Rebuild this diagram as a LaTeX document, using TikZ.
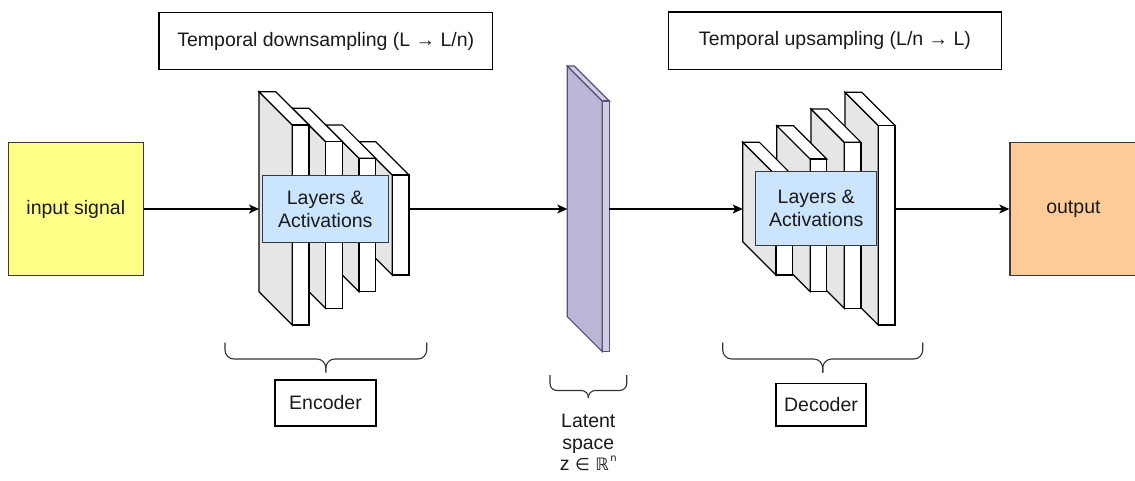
\documentclass[tikz,border=0pt]{standalone}
\usepackage{fontspec}
\setmainfont{Liberation Sans}
\newfontfamily\djv{DejaVu Sans}
\usetikzlibrary{arrows.meta}
\definecolor{strokeg}{HTML}{36393D}
\definecolor{yel}{HTML}{FFFF88}
\definecolor{ora}{HTML}{FFCC99}
\definecolor{lblue}{HTML}{CCE5FF}
\definecolor{sidegray}{HTML}{E6E6E6}
\definecolor{latfront}{HTML}{D0CEE2}
\definecolor{latside}{HTML}{B9B6D6}
\definecolor{latstroke}{HTML}{56517E}
\definecolor{txt}{HTML}{1A1A1A}
% #1 x0, #2 y0, #3 y1, #4 depth, #5 front width, #6 front fill, #7 side fill
\newcommand{\cubeplate}[7]{%
  \filldraw[fill=#7] (#1,#2) -- ({#1+#4},{#2+#4}) -- ({#1+#4},#3) -- (#1,{#3-#4}) -- cycle;
  \filldraw[fill=#6] (#1,#2) -- ({#1+#5},#2) -- ({#1+#5+#4},{#2+#4}) -- ({#1+#4},{#2+#4}) -- cycle;
  \filldraw[fill=#6] ({#1+#4},{#2+#4}) rectangle ({#1+#4+#5},#3);
}
% #1 xl, #2 xr, #3 ytop, #4 ymid, #5 ytip, #6 radius
\newcommand{\mybrace}[6]{%
  \draw[bracestyle, rounded corners=#6] (#1,#3) -- (#1,#4) -- ({(#1+#2)/2},#4) -- ({(#1+#2)/2},#5);
  \draw[bracestyle, rounded corners=#6] (#2,#3) -- (#2,#4) -- ({(#1+#2)/2},#4) -- ({(#1+#2)/2},#5);
}
\begin{document}
\begin{tikzpicture}[x=1pt,y=-1pt, line width=1.2pt,
  txtfont/.style={font=\fontsize{19.5}{23}\selectfont, text=txt},
  plainbox/.style={draw=black, fill=white, inner sep=0pt, align=center, txtfont},
  colbox/.style={draw=strokeg, inner sep=0pt, align=center, txtfont},
  arr/.style={draw=black, line width=1.2pt, -{Stealth[length=10pt,width=9pt,inset=2.5pt]}},
  plate/.style={draw=black, line width=1.2pt},
  latplate/.style={draw=latstroke, line width=1.2pt},
  bracestyle/.style={draw=black!80, line width=1.1pt}]
\useasboundingbox (0,0) rectangle (1135,480);

% top labels
\node[plainbox, minimum width=333.7pt, minimum height=56.6pt] (down) at (325.8,41) {Temporal downsampling (L → L/n)};
\node[plainbox, minimum width=333.4pt, minimum height=57.3pt] (up) at (835,40.7) {Temporal upsampling (L/n → L)};

% input / output
\node[colbox, fill=yel, minimum width=135pt, minimum height=133.4pt] (input) at (75.8,209) {input signal};
\node[colbox, fill=ora, minimum width=127pt, minimum height=133.4pt, anchor=west] (output) at (1009.3,209) {output};

% encoder plates (back to front)
\begin{scope}[plate]
\cubeplate{359}{141.7}{275}{33.3}{16.7}{white}{sidegray}
\cubeplate{325.7}{125}{291.7}{33.3}{16.7}{white}{sidegray}
\cubeplate{292.3}{108.3}{308.3}{33.3}{16.7}{white}{sidegray}
\cubeplate{259}{91.7}{325}{33.3}{16.7}{white}{sidegray}
\end{scope}
\node[colbox, fill=lblue, minimum width=126pt, minimum height=66.7pt] (enclayers) at (325.3,209) {Layers \&\\Activations};

% latent plate
\begin{scope}[latplate]
\cubeplate{567.3}{66}{351.7}{35}{7}{latfront}{latside}
\end{scope}

% decoder plates (back to front)
\begin{scope}[plate]
\cubeplate{845}{92.3}{325}{33.3}{16.7}{white}{sidegray}
\cubeplate{810.9}{109}{308.3}{33.3}{16.7}{white}{sidegray}
\cubeplate{776.8}{125.7}{291.7}{33.3}{16.7}{white}{sidegray}
\cubeplate{742.7}{142.3}{275}{33.3}{16.7}{white}{sidegray}
\end{scope}
\node[colbox, fill=lblue, minimum width=121pt, minimum height=74pt] (declayers) at (816.2,208.7) {Layers \&\\Activations};

% connector end points on the plates
\coordinate (encin) at (259,209);
\coordinate (encout) at (409,209);
\coordinate (latin) at (567.3,209);
\coordinate (latout) at (609.3,209);
\coordinate (decin) at (742.7,209);
\coordinate (decout) at (895,209);

\draw[arr] (input.east) -- (encin);
\draw[arr] (encout) -- (latin);
\draw[arr] (latout) -- (decin);
\draw[arr] (decout) -- (output.west);

% braces
\mybrace{225}{426.7}{342.7}{359}{372.7}{9pt}
\mybrace{550}{626.7}{375}{390.5}{398}{7pt}
\mybrace{722.7}{922.7}{342.7}{359}{372.7}{9pt}

% bottom labels
\node[plainbox, minimum width=101pt, minimum height=46pt] (enc) at (325.5,403) {Encoder};
\node[plainbox, minimum width=90pt, minimum height=42.7pt] (dec) at (821,404.7) {Decoder};
\node[txtfont, align=center, inner sep=0pt, anchor=north, font=\fontsize{19.5}{21.5}\selectfont] (latent) at (588.3,413.5)
  {Latent\\space\\z {\djv\fontsize{17}{21}\selectfont ∈ ℝ\kern1.5pt\raisebox{1.0ex}{\fontsize{10}{10}\selectfont n}}};
\end{tikzpicture}
\end{document}
